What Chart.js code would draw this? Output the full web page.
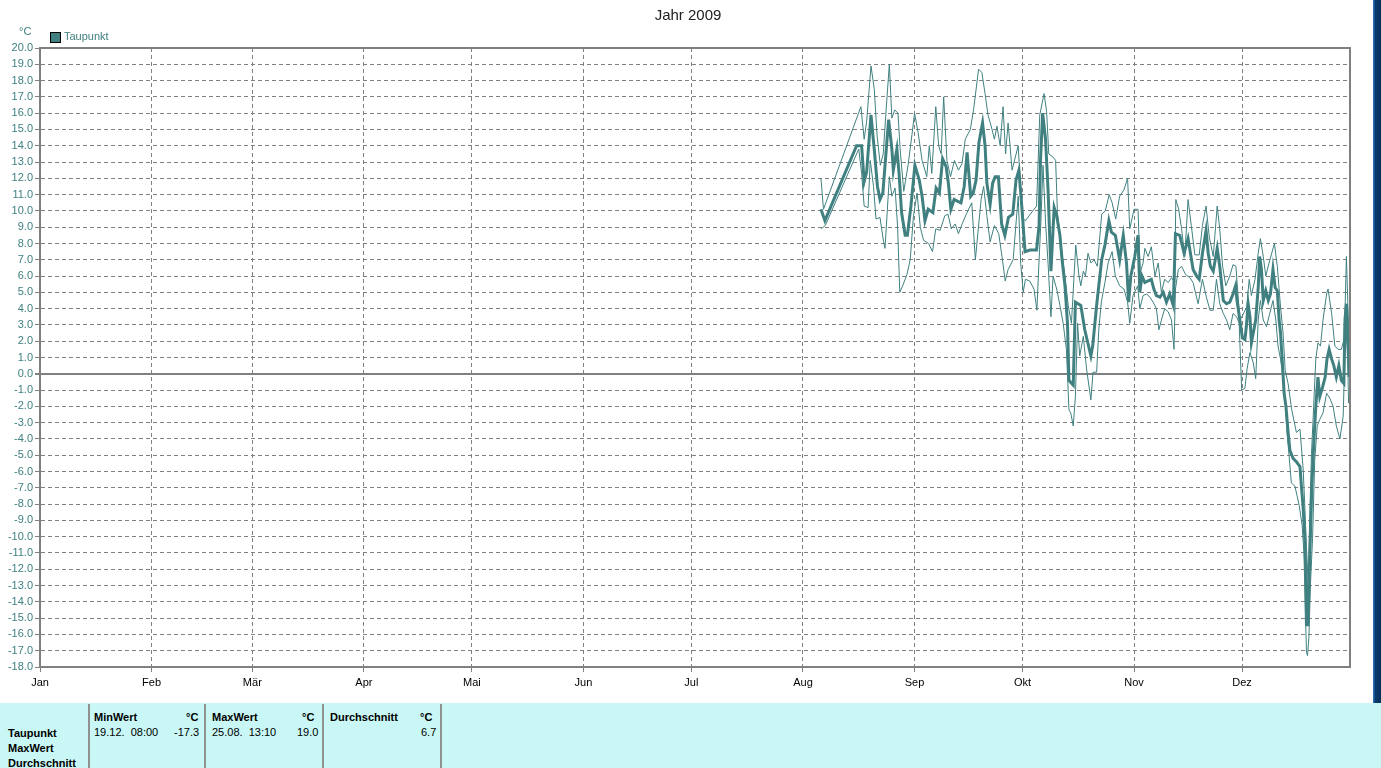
<!DOCTYPE html>
<html>
<head>
<meta charset="utf-8">
<script src="https://cdn.jsdelivr.net/npm/chart.js@4.4.1/dist/chart.umd.min.js"></script>
<style>
  html, body { margin:0; padding:0; background:#ffffff; width:1381px; height:768px; overflow:hidden; font-family:"Liberation Sans", Arial, sans-serif; }
  #wrap { position:absolute; left:0; top:0; width:1373px; height:703px; }
  #strip { position:absolute; left:1373px; top:0; width:8px; height:703px; background:linear-gradient(to right,#2a6cb0 0px,#2a6cb0 1px,#0b3c6e 2px,#06305c 8px); }
  .ov { position:absolute; white-space:nowrap; }
  #title { left:588px; width:200px; top:6px; text-align:center; font-size:15px; color:#202020; }
  #unit { left:19px; top:25px; font-size:11px; color:#408080; }
  #legbox { left:50px; top:32px; width:9px; height:9px; background:#408080; border:1px solid #000; }
  #legtxt { left:64px; top:30px; font-size:11px; color:#408080; }
  #table { position:absolute; left:0; top:703px; width:1381px; height:65px; background:#c9f7f5; font-size:11px; color:#000; }
  .cell { position:absolute; white-space:nowrap; }
  .b { font-weight:bold; }
  .div { position:absolute; top:1px; width:2px; height:64px; background:#909090; }
</style>
</head>
<body>
<div id="wrap"><canvas id="c" width="1373" height="703"></canvas></div>
<div id="strip"></div>
<div class="ov" id="title">Jahr 2009</div>
<div class="ov" id="unit">°C</div>
<div class="ov" id="legbox"></div>
<div class="ov" id="legtxt">Taupunkt</div>
<div id="table">
  <div class="div" style="left:88px"></div>
  <div class="div" style="left:204px"></div>
  <div class="div" style="left:322px"></div>
  <div class="div" style="left:440px"></div>
  <div class="cell b" style="left:8px;top:24px">Taupunkt</div>
  <div class="cell b" style="left:8px;top:39px">MaxWert</div>
  <div class="cell b" style="left:8px;top:54px">Durchschnitt</div>
  <div class="cell b" style="left:94px;top:8px">MinWert</div>
  <div class="cell b" style="left:186px;top:8px">°C</div>
  <div class="cell" style="left:94px;top:23px">19.12.&nbsp;&nbsp;08:00</div>
  <div class="cell" style="left:174px;top:23px">-17.3</div>
  <div class="cell b" style="left:212px;top:8px">MaxWert</div>
  <div class="cell b" style="left:302px;top:8px">°C</div>
  <div class="cell" style="left:212px;top:23px">25.08.&nbsp;&nbsp;13:10</div>
  <div class="cell" style="left:297px;top:23px">19.0</div>
  <div class="cell b" style="left:330px;top:8px">Durchschnitt</div>
  <div class="cell b" style="left:420px;top:8px">°C</div>
  <div class="cell" style="left:421px;top:23px">6.7</div>
</div>
<script>
const monthNames = ["Jan","Feb","Mär","Apr","Mai","Jun","Jul","Aug","Sep","Okt","Nov","Dez"];
const monthStarts = [0,31,59,90,120,151,181,212,243,273,304,334];
const yTickValues = [-18,-17,-16,-15,-14,-13,-12,-11,-10,-9,-8,-7,-6,-5,-4,-3,-2,-1,0,1,2,3,4,5,6,7,8,9,10,11,12,13,14,15,16,17,18,19,20];

// Taupunkt average (day of year, °C)
const avgDays = [217.0,218.1,226.9,228.3,229.0,229.7,230.9,231.8,232.7,233.4,234.2,235.8,236.7,237.1,238.1,238.7,239.4,240.4,241.0,242.0,243.1,244.3,245.1,245.9,246.8,248.1,249.0,249.9,250.8,251.8,252.4,253.1,254.0,254.9,255.9,256.8,257.6,258.6,259.3,260.1,260.9,261.9,262.6,263.1,264.0,264.7,265.4,266.3,267.2,268.1,269.1,270.3,271.2,272.0,272.8,273.7,275.1,276.9,277.6,278.0,278.6,279.4,280.1,280.9,281.8,282.5,283.4,284.0,284.8,285.5,285.9,287.1,287.7,289.2,290.3,292.0,292.5,293.6,295.0,295.9,297.0,297.7,298.8,300.0,301.0,301.9,302.5,303.1,304.2,305.1,305.6,306.2,307.0,307.9,308.8,309.5,310.2,311.2,312.1,313.0,313.9,314.9,315.5,316.7,317.9,319.0,320.4,321.4,322.1,323.0,324.0,324.6,325.2,326.0,327.1,327.8,328.8,329.7,330.6,331.5,332.2,332.6,333.4,334.1,334.8,335.2,335.7,336.2,336.6,337.3,337.8,338.5,338.9,339.4,339.9,340.6,341.3,341.9,342.6,343.2,343.8,344.3,344.7,345.2,345.7,346.2,346.8,347.3,348.2,349.1,350.1,350.5,351.0,351.4,351.7,351.9,352.3,352.6,353.0,353.4,353.9,354.5,355.1,355.6,356.4,357.1,357.6,358.2,358.9,359.5,360.2,360.9,361.6,362.3,362.6,363.0,363.4,363.8];
const avgValues = [10.1,9.4,14.0,14.0,11.8,12.4,15.9,13.8,11.5,10.7,11.1,15.6,13.8,12.5,13.8,12.3,9.9,8.5,8.5,10.3,12.8,11.9,10.9,9.4,10.1,9.9,11.4,11.1,13.2,12.7,11.7,10.1,10.7,10.6,10.5,11.5,13.6,10.9,11.1,11.9,14.2,15.4,14.0,11.7,10.4,11.7,12.1,12.1,9.2,8.5,9.6,9.8,11.9,12.5,10.3,7.5,7.6,7.6,9.1,13.1,16.0,14.4,11.3,6.3,10.2,9.7,8.5,7.0,5.4,3.1,-0.4,-0.7,4.4,4.2,2.7,1.1,1.7,4.2,7.0,7.9,9.4,8.7,8.5,7.0,8.5,6.8,4.4,6.0,7.2,8.5,5.0,6.0,5.6,5.7,5.8,5.2,4.8,4.7,5.0,4.4,4.9,4.2,8.6,8.5,7.4,8.3,6.4,6.0,5.8,7.4,8.8,7.4,6.6,6.3,7.7,6.6,4.5,4.3,4.4,4.9,5.4,4.5,3.3,2.2,2.1,2.9,4.3,3.5,1.9,2.7,3.3,5.3,7.2,6.4,4.5,5.1,4.5,4.9,6.4,5.3,5.1,3.3,2.5,0.7,-1.2,-2.0,-3.6,-4.7,-5.2,-5.4,-5.7,-6.9,-8.3,-9.9,-12.0,-15.4,-15.4,-13.0,-9.9,-6.9,-4.4,-2.0,-0.2,-1.4,-0.8,-0.2,0.9,1.5,0.9,0.5,-0.2,0.5,-0.4,-0.6,3.3,4.3,1.9,-0.2];

// Taupunkt maximum
const maxDays = [217.0,217.7,228.1,229.0,229.7,230.9,231.8,232.6,233.5,234.3,235.2,236.0,236.7,237.5,238.4,239.0,240.0,241.2,242.3,243.0,244.0,245.1,246.4,247.1,247.8,248.9,249.7,250.4,251.1,252.0,253.0,254.1,255.2,256.2,257.1,258.5,259.4,260.8,261.7,262.6,263.4,264.3,265.2,265.9,266.8,267.6,268.3,269.0,270.1,271.8,272.5,273.2,273.8,276.9,277.8,279.0,279.7,280.3,281.5,282.2,282.7,283.8,284.8,285.7,286.6,287.8,288.7,289.2,289.9,290.5,291.2,292.0,292.9,293.8,295.0,296.0,297.1,297.9,298.9,300.0,301.2,302.2,302.8,304.0,305.1,305.7,306.5,307.0,307.9,308.8,309.8,310.7,311.6,312.5,313.5,314.4,315.3,315.6,316.4,317.2,318.1,319.0,319.9,320.9,322.1,323.0,324.0,324.9,326.0,327.1,327.8,328.6,329.5,330.6,331.5,332.3,332.9,333.4,334.2,335.3,336.0,336.6,337.6,338.5,339.1,339.9,340.6,341.5,342.5,343.0,343.8,344.7,345.4,346.0,346.8,347.8,349.1,350.1,351.0,351.4,351.9,352.4,352.8,353.3,353.9,354.5,355.1,355.8,356.5,357.5,357.9,358.9,359.8,360.7,361.6,362.3,362.6,363.0,363.4,363.8];
const maxValues = [12.0,10.1,16.4,14.4,15.5,18.9,17.5,14.6,12.8,13.5,16.5,19.0,15.7,16.2,16.0,13.8,11.2,12.8,14.7,16.0,14.8,13.1,12.1,14.0,12.3,16.4,14.0,13.5,17.0,13.1,12.1,13.1,12.5,12.9,14.4,15.0,16.2,18.7,18.5,17.2,15.9,15.2,14.4,15.2,14.0,16.4,13.5,15.4,12.5,14.0,11.3,9.5,9.4,10.3,15.9,17.2,16.1,13.5,13.3,13.1,9.9,7.7,6.0,4.2,3.1,7.9,6.0,5.4,6.3,6.0,7.4,6.8,7.0,6.6,9.8,10.0,11.0,10.5,9.5,10.9,11.3,12.0,8.9,10.1,10.1,6.2,6.8,7.7,7.2,7.8,6.0,6.8,5.0,5.8,5.6,5.9,5.6,10.7,10.1,8.9,7.2,10.7,9.1,7.3,7.3,9.1,10.3,8.4,7.2,10.3,8.9,6.6,5.4,6.0,6.7,6.6,4.8,3.3,3.6,4.1,5.8,4.8,5.8,7.4,8.3,7.2,6.0,6.8,7.6,8.0,6.6,4.1,2.5,0.2,-0.6,-2.2,-3.6,-3.4,-5.9,-7.9,-10.6,-13.0,-8.9,-4.9,-2.0,0.9,1.9,1.7,3.3,4.9,5.2,3.7,1.7,1.5,1.5,2.1,3.7,7.2,4.3,1.7];

// Taupunkt minimum
const minDays = [217.1,218.2,227.5,228.3,229.0,230.1,230.7,231.6,232.3,233.4,234.4,234.8,236.0,236.7,237.6,238.3,238.9,239.7,240.9,241.8,242.7,243.7,244.6,245.5,246.9,248.0,248.9,250.1,251.4,252.3,253.2,254.3,255.2,256.4,257.8,258.9,259.9,261.5,262.2,263.1,264.0,265.2,266.4,267.3,268.2,269.0,270.4,271.8,272.5,273.2,273.8,275.0,276.2,277.0,277.4,278.1,278.7,279.4,280.1,280.9,281.5,282.5,283.4,284.3,285.2,285.9,286.4,287.1,287.7,288.3,288.9,289.9,290.8,292.0,292.6,293.6,294.2,294.9,295.9,296.8,297.9,298.8,300.0,301.2,302.2,302.8,303.7,305.0,305.6,306.5,307.5,308.4,309.3,310.2,310.9,311.6,312.5,313.5,314.4,315.1,315.5,316.3,317.2,318.3,319.5,320.4,321.8,323.0,324.1,325.1,326.0,326.9,327.8,328.8,329.7,330.6,331.5,332.5,333.2,333.9,334.8,335.4,336.2,337.1,337.8,338.5,339.1,339.9,340.8,341.7,342.6,343.4,344.0,344.7,345.4,346.1,346.5,347.1,347.7,348.7,349.3,349.9,350.7,351.2,351.5,351.9,352.2,352.6,353.0,353.6,354.2,354.9,355.6,356.5,357.5,358.4,359.3,360.2,361.2,362.1,362.6,363.2,363.6];
const minValues = [8.9,9.1,13.8,12.3,10.3,10.2,13.1,11.5,9.5,9.6,8.1,7.7,12.1,10.9,11.4,9.0,5.0,5.4,6.1,7.0,9.7,11.1,9.0,8.2,8.0,7.5,8.9,8.8,9.7,9.8,8.9,9.2,8.6,9.3,10.0,10.5,7.0,10.7,11.5,9.7,8.1,9.1,8.6,7.2,5.7,6.4,7.0,10.9,6.8,5.0,5.8,5.7,5.2,3.9,6.0,9.3,12.8,9.3,6.8,3.5,6.0,5.2,4.2,3.1,1.5,-2.2,-2.4,-3.2,-1.4,3.1,1.1,2.3,0.3,-1.6,0.1,0.1,2.7,4.4,5.6,6.8,7.5,6.0,5.4,5.2,4.4,3.1,4.8,5.4,4.0,4.8,4.9,4.7,4.4,4.0,2.7,3.3,4.0,3.8,3.3,1.5,5.2,6.4,6.6,6.1,5.9,5.6,4.3,5.8,4.7,3.9,3.9,5.8,4.3,3.7,3.3,2.7,3.7,3.5,3.1,-1.0,-0.9,0.3,1.3,0.7,-0.3,3.3,4.5,3.3,2.9,3.7,4.5,3.3,1.7,0.9,-0.2,-2.0,-3.6,-5.1,-6.7,-6.9,-7.5,-8.1,-9.3,-11.0,-13.6,-17.1,-17.3,-16.1,-13.0,-10.1,-5.3,-3.2,-2.8,-2.4,-1.2,-1.5,-2.0,-3.2,-4.0,-2.6,1.3,2.7,-1.8];

const toPts = (xs, ys) => xs.map((x, i) => ({x: x, y: ys[i]}));
const teal = '#408080';
const gridGray = '#808080';

const frame = {
  id: 'frame',
  afterDatasetsDraw(chart) {
    const a = chart.chartArea, ctx = chart.ctx;
    ctx.save();
    ctx.strokeStyle = gridGray;
    ctx.lineWidth = 2;
    ctx.strokeRect(a.left, a.top, a.right - a.left, a.bottom - a.top);
    ctx.restore();
  }
};

new Chart(document.getElementById('c'), {
  type: 'line',
  data: {
    datasets: [
      { label: 'Taupunkt Min', data: toPts(minDays, minValues), borderColor: teal, borderWidth: 1, pointRadius: 0, tension: 0 },
      { label: 'Taupunkt Max', data: toPts(maxDays, maxValues), borderColor: teal, borderWidth: 1, pointRadius: 0, tension: 0 },
      { label: 'Taupunkt', data: toPts(avgDays, avgValues), borderColor: teal, borderWidth: 3, pointRadius: 0, tension: 0, borderJoinStyle: 'miter' }
    ]
  },
  options: {
    responsive: false,
    animation: false,
    events: [],
    layout: { padding: { left: 0, right: 23, top: 48, bottom: 0 } },
    plugins: { legend: { display: false }, title: { display: false }, tooltip: { enabled: false } },
    scales: {
      x: {
        type: 'linear', min: 0, max: 364,
        afterBuildTicks: (s) => { s.ticks = monthStarts.map(v => ({ value: v })); },
        afterFit: (s) => { s.height = 36; },
        ticks: { autoSkip: false, maxRotation: 0, padding: 4, color: '#000000',
                 font: { family: 'Liberation Sans', size: 11 },
                 callback: (v) => monthNames[monthStarts.indexOf(v)] },
        grid: { color: gridGray, lineWidth: 1, tickLength: 5, tickColor: gridGray },
        border: { display: true, color: gridGray, width: 2, dash: [4, 3] }
      },
      y: {
        type: 'linear', min: -18, max: 20,
        afterBuildTicks: (s) => { s.ticks = yTickValues.map(v => ({ value: v })); },
        afterFit: (s) => { s.width = 40; },
        ticks: { autoSkip: false, padding: 2, color: teal,
                 font: { family: 'Liberation Sans', size: 11 },
                 callback: (v) => Number(v).toFixed(1) },
        grid: {
          color: gridGray,
          lineWidth: (c) => (c.tick && c.tick.value === 0) ? 2 : 1,
          tickLength: 5, tickColor: gridGray
        },
        border: { display: true, color: gridGray, width: 2,
                  dash: (c) => (c.tick && c.tick.value === 0) ? [] : [4, 3] }
      }
    }
  },
  plugins: [frame]
});
</script>
</body>
</html>
